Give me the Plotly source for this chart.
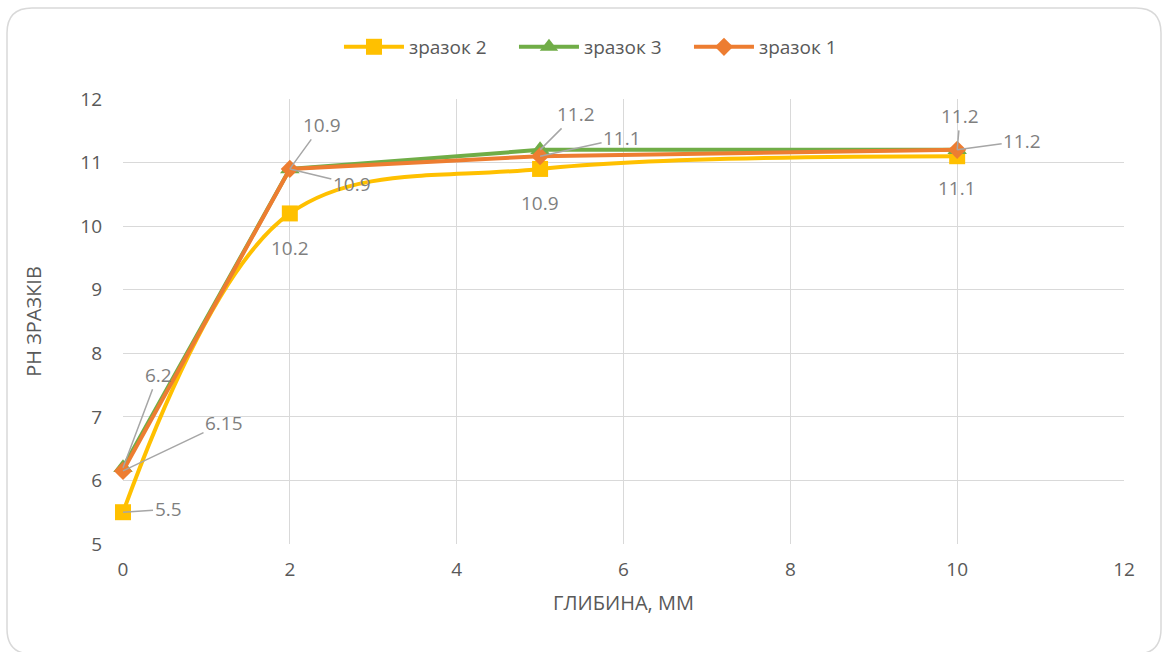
import plotly.graph_objects as go

# Depth (mm) and pH of three samples
depth = [0, 2, 5, 10]
ph_sample2 = [5.5, 10.2, 10.9, 11.1]
ph_sample3 = [6.2, 10.9, 11.2, 11.2]
ph_sample1 = [6.15, 10.9, 11.1, 11.2]

names = ["зразок 2", "зразок 3", "зразок 1"]
colors = ["#FFC000", "#70AD47", "#ED7D31"]
symbols = ["square", "triangle-up", "diamond"]
marker_sizes = [16, 17, 14]
shapes_line = ["spline", "linear", "linear"]
series = [ph_sample2, ph_sample3, ph_sample1]

# label offsets in pixels (dx, dy, draw leader line)
label_offsets = [
    [(45, -3, True), (0, 35, False), (0, 34, False), (0, 32, False)],
    [(35, -93, True), (62, 15, True), (36, -36, True), (3, -34, True)],
    [(101, -48, True), (32, -44, True), (82, -18, True), (65, -9, True)],
]

FONT = "Open Sans"
GRAY = "#595959"
LBL = "#7F7F7F"

fig = go.Figure()
for name, ys, c, sym, ms, ls in zip(names, series, colors, symbols, marker_sizes, shapes_line):
    fig.add_trace(go.Scatter(
        x=depth, y=ys, name=name, mode="lines+markers", cliponaxis=False,
        line=dict(color=c, width=4, shape=ls, smoothing=1.0),
        marker=dict(symbol=sym, size=ms, color=c),
    ))

annotations = []
for ys, offs in zip(series, label_offsets):
    for xv, yv, (ax, ay, lead) in zip(depth, ys, offs):
        annotations.append(dict(
            x=xv, y=yv, xref="x", yref="y", text=f"{yv:g}",
            showarrow=True, ax=ax, ay=ay,
            arrowhead=0, arrowwidth=1.5,
            arrowcolor="#A6A6A6" if lead else "rgba(0,0,0,0)",
            standoff=0, startstandoff=0,
            font=dict(family=FONT, size=19, color=LBL),
            xanchor="center", yanchor="middle",
        ))

fig.update_layout(
    width=1162, height=652,
    margin=dict(l=123, r=38, t=99, b=108),
    paper_bgcolor="white", plot_bgcolor="white",
    font=dict(family=FONT, size=19, color=GRAY),
    showlegend=True,
    legend=dict(orientation="h", x=0.478, xanchor="center", y=1.117, yanchor="middle",
                font=dict(family=FONT, size=19, color=GRAY), itemwidth=60,
                entrywidth=100, entrywidthmode="pixels",
                traceorder="normal"),
    xaxis=dict(range=[0, 12], dtick=2, showgrid=True, gridcolor="#D9D9D9", gridwidth=1.3,
               zeroline=False, showline=False, ticks="", ticklabelstandoff=12,
               tickfont=dict(family=FONT, size=19, color=GRAY),
               title=dict(text="ГЛИБИНА, ММ", font=dict(family=FONT, size=20, color=GRAY), standoff=14)),
    yaxis=dict(range=[5, 12], dtick=1, showgrid=True, gridcolor="#D9D9D9", gridwidth=1.3,
               zeroline=False, showline=False, ticks="", ticklabelstandoff=20,
               tickfont=dict(family=FONT, size=19, color=GRAY),
               title=dict(text="PH ЗРАЗКІВ", font=dict(family=FONT, size=20, color=GRAY), standoff=33)),
    annotations=annotations,
)

# rounded outer frame of the chart area (paper coordinates, ~25px corner radius)
px_x = 1 / 1001
px_y = 1 / 445
L, R = -116 * px_x, 1038 * px_x
T, B = 536 * px_y, -110 * px_y
rx, ry = 25 * px_x, 25 * px_y
fig.add_shape(type="path", xref="paper", yref="paper",
              path=(f"M {L + rx},{T} L {R - rx},{T} Q {R},{T} {R},{T - ry} "
                    f"L {R},{B + ry} Q {R},{B} {R - rx},{B} "
                    f"L {L + rx},{B} Q {L},{B} {L},{B + ry} "
                    f"L {L},{T - ry} Q {L},{T} {L + rx},{T} Z"),
              line=dict(color="#D9D9D9", width=1.5), layer="below")

fig.write_html("out.html")
